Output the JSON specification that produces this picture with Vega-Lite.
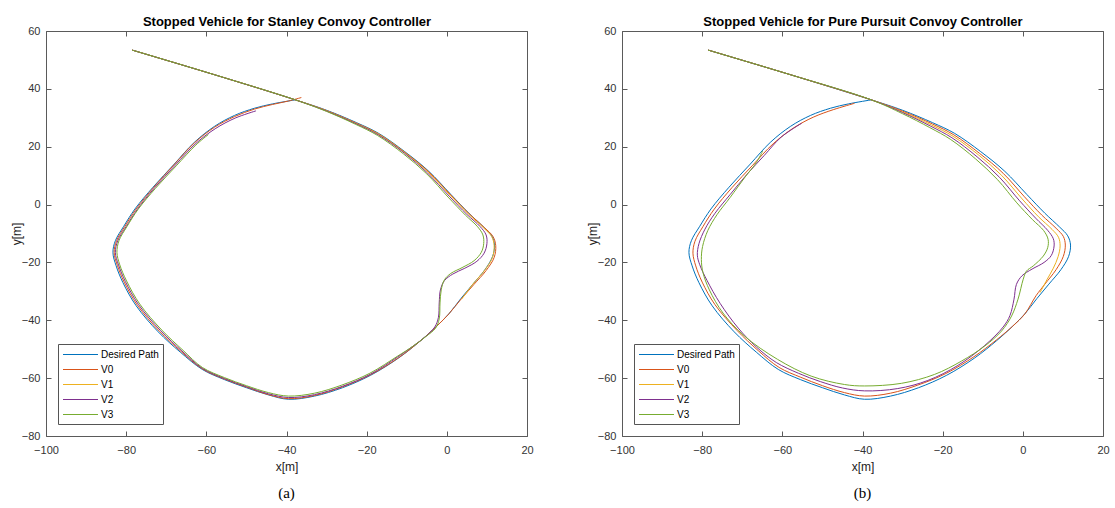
{
  "$schema": "https://vega.github.io/schema/vega-lite/v6.json",
  "background": "white",
  "padding": {"left": 10, "top": 15, "right": 4, "bottom": 4},
  "spacing": 95,
  "bounds": "flush",
  "datasets": {
    "stanley": [
      {"s":"Desired Path","i":0,"x":-78.5,"y":53.4},{"s":"Desired Path","i":1,"x":-58,"y":44.9},{"s":"Desired Path","i":2,"x":-37.8,"y":36.2},{"s":"Desired Path","i":3,"x":-30,"y":32.6},{"s":"Desired Path","i":4,"x":-22.5,"y":28.3},{"s":"Desired Path","i":5,"x":-17,"y":24.6},{"s":"Desired Path","i":6,"x":-10.5,"y":18.3},{"s":"Desired Path","i":7,"x":-4.5,"y":11.5},{"s":"Desired Path","i":8,"x":1,"y":3.5},{"s":"Desired Path","i":9,"x":5.5,"y":-3},{"s":"Desired Path","i":10,"x":9.2,"y":-7.8},{"s":"Desired Path","i":11,"x":11.2,"y":-10.8},{"s":"Desired Path","i":12,"x":11.9,"y":-14},{"s":"Desired Path","i":13,"x":11.4,"y":-18},{"s":"Desired Path","i":14,"x":9.5,"y":-22.5},{"s":"Desired Path","i":15,"x":6.5,"y":-27.5},{"s":"Desired Path","i":16,"x":3.5,"y":-32.5},{"s":"Desired Path","i":17,"x":0.5,"y":-37.8},{"s":"Desired Path","i":18,"x":-2.5,"y":-42},{"s":"Desired Path","i":19,"x":-6.5,"y":-47},{"s":"Desired Path","i":20,"x":-12,"y":-53},{"s":"Desired Path","i":21,"x":-19,"y":-59},{"s":"Desired Path","i":22,"x":-26,"y":-63.3},{"s":"Desired Path","i":23,"x":-33,"y":-66.2},{"s":"Desired Path","i":24,"x":-39.5,"y":-67.3},{"s":"Desired Path","i":25,"x":-44.5,"y":-65.8},{"s":"Desired Path","i":26,"x":-50,"y":-63.3},{"s":"Desired Path","i":27,"x":-55.5,"y":-60.5},{"s":"Desired Path","i":28,"x":-61,"y":-57},{"s":"Desired Path","i":29,"x":-66.5,"y":-51},{"s":"Desired Path","i":30,"x":-72,"y":-44},{"s":"Desired Path","i":31,"x":-77.5,"y":-35},{"s":"Desired Path","i":32,"x":-80.8,"y":-27},{"s":"Desired Path","i":33,"x":-82.5,"y":-21.2},{"s":"Desired Path","i":34,"x":-83.3,"y":-16.6},{"s":"Desired Path","i":35,"x":-82.7,"y":-12.5},{"s":"Desired Path","i":36,"x":-80.6,"y":-7.5},{"s":"Desired Path","i":37,"x":-77.8,"y":-1.5},{"s":"Desired Path","i":38,"x":-73.3,"y":6},{"s":"Desired Path","i":39,"x":-68,"y":14},{"s":"Desired Path","i":40,"x":-63,"y":21.5},{"s":"Desired Path","i":41,"x":-58,"y":27},{"s":"Desired Path","i":42,"x":-53,"y":30.8},{"s":"Desired Path","i":43,"x":-48,"y":33.3},{"s":"Desired Path","i":44,"x":-43.5,"y":34.8},{"s":"Desired Path","i":45,"x":-37.8,"y":36.2},

      {"s":"V0","i":0,"x":-78.5,"y":53.4},{"s":"V0","i":1,"x":-58,"y":44.9},{"s":"V0","i":2,"x":-37.8,"y":36.2},{"s":"V0","i":3,"x":-30,"y":32.5},{"s":"V0","i":4,"x":-22.5,"y":28.1},{"s":"V0","i":5,"x":-17,"y":24.4},{"s":"V0","i":6,"x":-10.5,"y":18.1},{"s":"V0","i":7,"x":-4.5,"y":11.3},{"s":"V0","i":8,"x":1,"y":3.3},{"s":"V0","i":9,"x":5.6,"y":-3.2},{"s":"V0","i":10,"x":9.4,"y":-8},{"s":"V0","i":11,"x":11.5,"y":-11},{"s":"V0","i":12,"x":12.2,"y":-14.2},{"s":"V0","i":13,"x":11.8,"y":-18.3},{"s":"V0","i":14,"x":9.8,"y":-22.8},{"s":"V0","i":15,"x":6.7,"y":-27.7},{"s":"V0","i":16,"x":3.6,"y":-32.6},{"s":"V0","i":17,"x":0.5,"y":-37.8},{"s":"V0","i":18,"x":-2.5,"y":-42},{"s":"V0","i":19,"x":-6.5,"y":-47},{"s":"V0","i":20,"x":-12,"y":-52.9},{"s":"V0","i":21,"x":-19,"y":-58.8},{"s":"V0","i":22,"x":-26,"y":-63},{"s":"V0","i":23,"x":-33,"y":-66},{"s":"V0","i":24,"x":-39.5,"y":-67.1},{"s":"V0","i":25,"x":-44.5,"y":-65.7},{"s":"V0","i":26,"x":-50,"y":-63.1},{"s":"V0","i":27,"x":-55.5,"y":-60.3},{"s":"V0","i":28,"x":-61,"y":-56.8},{"s":"V0","i":29,"x":-66.3,"y":-50.8},{"s":"V0","i":30,"x":-71.7,"y":-43.8},{"s":"V0","i":31,"x":-77.2,"y":-34.8},{"s":"V0","i":32,"x":-80.5,"y":-26.8},{"s":"V0","i":33,"x":-82.2,"y":-21},{"s":"V0","i":34,"x":-83,"y":-16.6},{"s":"V0","i":35,"x":-82.4,"y":-12.5},{"s":"V0","i":36,"x":-80.3,"y":-7.5},{"s":"V0","i":37,"x":-77.5,"y":-1.5},{"s":"V0","i":38,"x":-73.1,"y":6},{"s":"V0","i":39,"x":-67.9,"y":14},{"s":"V0","i":40,"x":-63,"y":21.3},{"s":"V0","i":41,"x":-58,"y":26.7},{"s":"V0","i":42,"x":-53,"y":30.4},{"s":"V0","i":43,"x":-48,"y":33},{"s":"V0","i":44,"x":-43.5,"y":34.6},{"s":"V0","i":45,"x":-39.5,"y":35.8},{"s":"V0","i":46,"x":-36.3,"y":37},

      {"s":"V1","i":0,"x":-78.5,"y":53.4},{"s":"V1","i":1,"x":-58,"y":44.9},{"s":"V1","i":2,"x":-37.8,"y":36.2},{"s":"V1","i":3,"x":-30,"y":32.4},{"s":"V1","i":4,"x":-22.5,"y":28},{"s":"V1","i":5,"x":-17,"y":24.3},{"s":"V1","i":6,"x":-10.5,"y":18},{"s":"V1","i":7,"x":-4.6,"y":11.1},{"s":"V1","i":8,"x":0.9,"y":3.1},{"s":"V1","i":9,"x":5.4,"y":-3.3},{"s":"V1","i":10,"x":9.2,"y":-8.1},{"s":"V1","i":11,"x":11.2,"y":-11.1},{"s":"V1","i":12,"x":11.8,"y":-14.2},{"s":"V1","i":13,"x":11.4,"y":-18.2},{"s":"V1","i":14,"x":9.5,"y":-22.6},{"s":"V1","i":15,"x":6.5,"y":-27.5},{"s":"V1","i":16,"x":3.7,"y":-32.7},

      {"s":"V2","i":0,"x":-78.5,"y":53.4},{"s":"V2","i":1,"x":-58,"y":44.9},{"s":"V2","i":2,"x":-37.8,"y":36.2},{"s":"V2","i":3,"x":-30,"y":32.3},{"s":"V2","i":4,"x":-22.6,"y":27.9},{"s":"V2","i":5,"x":-17.1,"y":24.1},{"s":"V2","i":6,"x":-10.6,"y":17.8},{"s":"V2","i":7,"x":-4.8,"y":10.9},{"s":"V2","i":8,"x":0.6,"y":2.9},{"s":"V2","i":9,"x":5,"y":-3.4},{"s":"V2","i":10,"x":8.3,"y":-7.6},{"s":"V2","i":11,"x":9.8,"y":-10.5},{"s":"V2","i":12,"x":10,"y":-13.5},{"s":"V2","i":13,"x":9.3,"y":-16.8},{"s":"V2","i":14,"x":7.5,"y":-19.6},{"s":"V2","i":15,"x":4.5,"y":-22},{"s":"V2","i":16,"x":1.5,"y":-24},{"s":"V2","i":17,"x":-0.6,"y":-26.3},{"s":"V2","i":18,"x":-1.6,"y":-29.5},{"s":"V2","i":19,"x":-1.9,"y":-34},{"s":"V2","i":20,"x":-2.1,"y":-39},{"s":"V2","i":21,"x":-3,"y":-42.3},{"s":"V2","i":22,"x":-5.2,"y":-45.5},{"s":"V2","i":23,"x":-8.5,"y":-49},{"s":"V2","i":24,"x":-12.2,"y":-52.6},{"s":"V2","i":25,"x":-19,"y":-58.6},{"s":"V2","i":26,"x":-26,"y":-62.8},{"s":"V2","i":27,"x":-33,"y":-65.7},{"s":"V2","i":28,"x":-39.5,"y":-66.7},{"s":"V2","i":29,"x":-44.5,"y":-65.4},{"s":"V2","i":30,"x":-50,"y":-62.9},{"s":"V2","i":31,"x":-55.5,"y":-60.1},{"s":"V2","i":32,"x":-61,"y":-56.6},{"s":"V2","i":33,"x":-66.1,"y":-50.6},{"s":"V2","i":34,"x":-71.4,"y":-43.6},{"s":"V2","i":35,"x":-76.9,"y":-34.6},{"s":"V2","i":36,"x":-80.2,"y":-26.6},{"s":"V2","i":37,"x":-81.9,"y":-20.9},{"s":"V2","i":38,"x":-82.7,"y":-16.6},{"s":"V2","i":39,"x":-82.1,"y":-12.5},{"s":"V2","i":40,"x":-80,"y":-7.6},{"s":"V2","i":41,"x":-77.2,"y":-1.6},{"s":"V2","i":42,"x":-72.9,"y":5.8},{"s":"V2","i":43,"x":-67.7,"y":13.7},{"s":"V2","i":44,"x":-62.8,"y":20.9},{"s":"V2","i":45,"x":-57.8,"y":26.2},{"s":"V2","i":46,"x":-52.8,"y":29.9},{"s":"V2","i":47,"x":-47.6,"y":32.4},

      {"s":"V3","i":0,"x":-78.5,"y":53.4},{"s":"V3","i":1,"x":-58,"y":44.9},{"s":"V3","i":2,"x":-37.8,"y":36.2},{"s":"V3","i":3,"x":-30,"y":32.2},{"s":"V3","i":4,"x":-22.7,"y":27.7},{"s":"V3","i":5,"x":-17.3,"y":23.9},{"s":"V3","i":6,"x":-10.8,"y":17.5},{"s":"V3","i":7,"x":-5,"y":10.6},{"s":"V3","i":8,"x":0.3,"y":2.6},{"s":"V3","i":9,"x":4.6,"y":-3.6},{"s":"V3","i":10,"x":7.7,"y":-7.7},{"s":"V3","i":11,"x":9,"y":-10.5},{"s":"V3","i":12,"x":9.2,"y":-13.5},{"s":"V3","i":13,"x":8.6,"y":-16.5},{"s":"V3","i":14,"x":6.8,"y":-19.4},{"s":"V3","i":15,"x":3.8,"y":-21.8},{"s":"V3","i":16,"x":1,"y":-23.8},{"s":"V3","i":17,"x":-0.6,"y":-26},{"s":"V3","i":18,"x":-1.4,"y":-29.5},{"s":"V3","i":19,"x":-1.7,"y":-34},{"s":"V3","i":20,"x":-1.9,"y":-39.5},{"s":"V3","i":21,"x":-2.8,"y":-42.7},{"s":"V3","i":22,"x":-5.2,"y":-45.6},{"s":"V3","i":23,"x":-8.5,"y":-49},{"s":"V3","i":24,"x":-12.3,"y":-52.4},{"s":"V3","i":25,"x":-19.2,"y":-58.3},{"s":"V3","i":26,"x":-26.2,"y":-62.4},{"s":"V3","i":27,"x":-33,"y":-65.2},{"s":"V3","i":28,"x":-39.5,"y":-66.2},{"s":"V3","i":29,"x":-44.5,"y":-65},{"s":"V3","i":30,"x":-50,"y":-62.6},{"s":"V3","i":31,"x":-55.5,"y":-59.8},{"s":"V3","i":32,"x":-61,"y":-56.3},{"s":"V3","i":33,"x":-65.8,"y":-50.4},{"s":"V3","i":34,"x":-71.1,"y":-43.4},{"s":"V3","i":35,"x":-76.6,"y":-34.4},{"s":"V3","i":36,"x":-79.9,"y":-26.4},{"s":"V3","i":37,"x":-81.6,"y":-20.8},{"s":"V3","i":38,"x":-82.3,"y":-16.6},{"s":"V3","i":39,"x":-81.8,"y":-12.5},{"s":"V3","i":40,"x":-79.8,"y":-7.6},{"s":"V3","i":41,"x":-77,"y":-1.6},{"s":"V3","i":42,"x":-72.7,"y":5.6},{"s":"V3","i":43,"x":-67.5,"y":13.4},{"s":"V3","i":44,"x":-62.6,"y":20.6},{"s":"V3","i":45,"x":-59.5,"y":24.2}
    ],
    "pursuit": [
      {"s":"Desired Path","i":0,"x":-78.5,"y":53.4},{"s":"Desired Path","i":1,"x":-58,"y":44.9},{"s":"Desired Path","i":2,"x":-37.8,"y":36.2},{"s":"Desired Path","i":3,"x":-30,"y":32.6},{"s":"Desired Path","i":4,"x":-22.5,"y":28.3},{"s":"Desired Path","i":5,"x":-17,"y":24.6},{"s":"Desired Path","i":6,"x":-10.5,"y":18.3},{"s":"Desired Path","i":7,"x":-4.5,"y":11.5},{"s":"Desired Path","i":8,"x":1,"y":3.5},{"s":"Desired Path","i":9,"x":5.5,"y":-3},{"s":"Desired Path","i":10,"x":9.2,"y":-7.8},{"s":"Desired Path","i":11,"x":11.2,"y":-10.8},{"s":"Desired Path","i":12,"x":11.9,"y":-14},{"s":"Desired Path","i":13,"x":11.4,"y":-18},{"s":"Desired Path","i":14,"x":9.5,"y":-22.5},{"s":"Desired Path","i":15,"x":6.5,"y":-27.5},{"s":"Desired Path","i":16,"x":3.5,"y":-32.5},{"s":"Desired Path","i":17,"x":0.5,"y":-37.8},{"s":"Desired Path","i":18,"x":-2.5,"y":-42},{"s":"Desired Path","i":19,"x":-6.5,"y":-47},{"s":"Desired Path","i":20,"x":-12,"y":-53},{"s":"Desired Path","i":21,"x":-19,"y":-59},{"s":"Desired Path","i":22,"x":-26,"y":-63.3},{"s":"Desired Path","i":23,"x":-33,"y":-66.2},{"s":"Desired Path","i":24,"x":-39.5,"y":-67.3},{"s":"Desired Path","i":25,"x":-44.5,"y":-65.8},{"s":"Desired Path","i":26,"x":-50,"y":-63.3},{"s":"Desired Path","i":27,"x":-55.5,"y":-60.5},{"s":"Desired Path","i":28,"x":-61,"y":-57},{"s":"Desired Path","i":29,"x":-66.5,"y":-51},{"s":"Desired Path","i":30,"x":-72,"y":-44},{"s":"Desired Path","i":31,"x":-77.5,"y":-35},{"s":"Desired Path","i":32,"x":-80.8,"y":-27},{"s":"Desired Path","i":33,"x":-82.5,"y":-21.2},{"s":"Desired Path","i":34,"x":-83.3,"y":-16.6},{"s":"Desired Path","i":35,"x":-82.7,"y":-12.5},{"s":"Desired Path","i":36,"x":-80.6,"y":-7.5},{"s":"Desired Path","i":37,"x":-77.8,"y":-1.5},{"s":"Desired Path","i":38,"x":-73.3,"y":6},{"s":"Desired Path","i":39,"x":-68,"y":14},{"s":"Desired Path","i":40,"x":-63,"y":21.5},{"s":"Desired Path","i":41,"x":-58,"y":27},{"s":"Desired Path","i":42,"x":-53,"y":30.8},{"s":"Desired Path","i":43,"x":-48,"y":33.3},{"s":"Desired Path","i":44,"x":-43.5,"y":34.8},{"s":"Desired Path","i":45,"x":-37.8,"y":36.2},

      {"s":"V0","i":0,"x":-78.5,"y":53.4},{"s":"V0","i":1,"x":-58,"y":44.9},{"s":"V0","i":2,"x":-37.8,"y":36.2},{"s":"V0","i":3,"x":-30,"y":32.3},{"s":"V0","i":4,"x":-22.6,"y":27.9},{"s":"V0","i":5,"x":-17.2,"y":24.1},{"s":"V0","i":6,"x":-10.8,"y":17.7},{"s":"V0","i":7,"x":-4.9,"y":10.8},{"s":"V0","i":8,"x":0.4,"y":2.7},{"s":"V0","i":9,"x":4.7,"y":-3.6},{"s":"V0","i":10,"x":8.3,"y":-8.2},{"s":"V0","i":11,"x":10.1,"y":-11},{"s":"V0","i":12,"x":10.6,"y":-14},{"s":"V0","i":13,"x":10.1,"y":-17.9},{"s":"V0","i":14,"x":8.3,"y":-22.5},{"s":"V0","i":15,"x":5.5,"y":-27.5},{"s":"V0","i":16,"x":3.3,"y":-31.5},{"s":"V0","i":17,"x":0.5,"y":-37.8},{"s":"V0","i":18,"x":-2.5,"y":-42},{"s":"V0","i":19,"x":-6.6,"y":-46.8},{"s":"V0","i":20,"x":-12.2,"y":-52.6},{"s":"V0","i":21,"x":-19.2,"y":-58.4},{"s":"V0","i":22,"x":-26.2,"y":-62.4},{"s":"V0","i":23,"x":-33,"y":-65.2},{"s":"V0","i":24,"x":-39.5,"y":-66.2},{"s":"V0","i":25,"x":-44.5,"y":-65},{"s":"V0","i":26,"x":-50,"y":-62.6},{"s":"V0","i":27,"x":-55.4,"y":-59.7},{"s":"V0","i":28,"x":-60.8,"y":-56.3},{"s":"V0","i":29,"x":-66,"y":-50.5},{"s":"V0","i":30,"x":-71.3,"y":-43.5},{"s":"V0","i":31,"x":-76.8,"y":-34.6},{"s":"V0","i":32,"x":-80,"y":-26.8},{"s":"V0","i":33,"x":-81.6,"y":-21.2},{"s":"V0","i":34,"x":-82.3,"y":-16.8},{"s":"V0","i":35,"x":-81.8,"y":-12.7},{"s":"V0","i":36,"x":-79.8,"y":-7.6},{"s":"V0","i":37,"x":-77,"y":-1.6},{"s":"V0","i":38,"x":-72.6,"y":5.8},{"s":"V0","i":39,"x":-67.4,"y":13.6},{"s":"V0","i":40,"x":-62.3,"y":21},{"s":"V0","i":41,"x":-57.3,"y":26.4},{"s":"V0","i":42,"x":-52.3,"y":30.2},{"s":"V0","i":43,"x":-47.3,"y":32.8},{"s":"V0","i":44,"x":-42,"y":35},

      {"s":"V1","i":0,"x":-78.5,"y":53.4},{"s":"V1","i":1,"x":-58,"y":44.9},{"s":"V1","i":2,"x":-37.8,"y":36.2},{"s":"V1","i":3,"x":-30,"y":32},{"s":"V1","i":4,"x":-22.8,"y":27.5},{"s":"V1","i":5,"x":-17.4,"y":23.6},{"s":"V1","i":6,"x":-11,"y":17.1},{"s":"V1","i":7,"x":-5.3,"y":10.1},{"s":"V1","i":8,"x":-0.2,"y":2},{"s":"V1","i":9,"x":3.9,"y":-4.2},{"s":"V1","i":10,"x":7.3,"y":-8.6},{"s":"V1","i":11,"x":8.9,"y":-11.3},{"s":"V1","i":12,"x":9.3,"y":-14.3},{"s":"V1","i":13,"x":8.8,"y":-18},{"s":"V1","i":14,"x":7.6,"y":-22},{"s":"V1","i":15,"x":6,"y":-26},{"s":"V1","i":16,"x":4.3,"y":-30.4},

      {"s":"V2","i":0,"x":-78.5,"y":53.4},{"s":"V2","i":1,"x":-58,"y":44.9},{"s":"V2","i":2,"x":-37.8,"y":36.2},{"s":"V2","i":3,"x":-30,"y":31.8},{"s":"V2","i":4,"x":-23,"y":27.1},{"s":"V2","i":5,"x":-17.7,"y":23.1},{"s":"V2","i":6,"x":-11.4,"y":16.5},{"s":"V2","i":7,"x":-5.8,"y":9.4},{"s":"V2","i":8,"x":-0.8,"y":1.3},{"s":"V2","i":9,"x":3.2,"y":-4.7},{"s":"V2","i":10,"x":6.2,"y":-8.9},{"s":"V2","i":11,"x":7.6,"y":-11.8},{"s":"V2","i":12,"x":7.8,"y":-14.3},{"s":"V2","i":13,"x":7.1,"y":-17.6},{"s":"V2","i":14,"x":5.3,"y":-20},{"s":"V2","i":15,"x":2.3,"y":-22.3},{"s":"V2","i":16,"x":-0.2,"y":-24.6},{"s":"V2","i":17,"x":-1.6,"y":-27.6},{"s":"V2","i":18,"x":-2.2,"y":-32.7},{"s":"V2","i":19,"x":-3.2,"y":-38.3},{"s":"V2","i":20,"x":-4.9,"y":-42.3},{"s":"V2","i":21,"x":-9.5,"y":-48.7},{"s":"V2","i":22,"x":-16.2,"y":-55.6},{"s":"V2","i":23,"x":-23.7,"y":-60.8},{"s":"V2","i":24,"x":-31.2,"y":-63.6},{"s":"V2","i":25,"x":-39.5,"y":-64.4},{"s":"V2","i":26,"x":-45,"y":-63.4},{"s":"V2","i":27,"x":-50.5,"y":-61.2},{"s":"V2","i":28,"x":-56,"y":-58.3},{"s":"V2","i":29,"x":-61.5,"y":-54.6},{"s":"V2","i":30,"x":-66.5,"y":-49.2},{"s":"V2","i":31,"x":-71,"y":-42.7},{"s":"V2","i":32,"x":-75.5,"y":-34.2},{"s":"V2","i":33,"x":-78.8,"y":-26.2},{"s":"V2","i":34,"x":-80.6,"y":-20.8},{"s":"V2","i":35,"x":-81.2,"y":-17.5},{"s":"V2","i":36,"x":-80.8,"y":-13.5},{"s":"V2","i":37,"x":-79.3,"y":-8.5},{"s":"V2","i":38,"x":-76.8,"y":-3},{"s":"V2","i":39,"x":-73,"y":3.5},{"s":"V2","i":40,"x":-68.8,"y":10.5},{"s":"V2","i":41,"x":-64.5,"y":17},{"s":"V2","i":42,"x":-60.3,"y":23.3},{"s":"V2","i":43,"x":-55.2,"y":28.1},

      {"s":"V3","i":0,"x":-78.5,"y":53.4},{"s":"V3","i":1,"x":-58,"y":44.9},{"s":"V3","i":2,"x":-37.8,"y":36.2},{"s":"V3","i":3,"x":-30,"y":31.4},{"s":"V3","i":4,"x":-23.2,"y":26.6},{"s":"V3","i":5,"x":-18,"y":22.5},{"s":"V3","i":6,"x":-11.8,"y":15.8},{"s":"V3","i":7,"x":-6.3,"y":8.6},{"s":"V3","i":8,"x":-1.5,"y":0.6},{"s":"V3","i":9,"x":2.4,"y":-5.2},{"s":"V3","i":10,"x":5.2,"y":-9},{"s":"V3","i":11,"x":6.3,"y":-12},{"s":"V3","i":12,"x":6.2,"y":-14.9},{"s":"V3","i":13,"x":5.1,"y":-17.8},{"s":"V3","i":14,"x":2.6,"y":-21.2},{"s":"V3","i":15,"x":0.9,"y":-23},{"s":"V3","i":16,"x":0.1,"y":-25.8},{"s":"V3","i":17,"x":-1.2,"y":-32.7},{"s":"V3","i":18,"x":-2.8,"y":-38.5},{"s":"V3","i":19,"x":-5.3,"y":-43.7},{"s":"V3","i":20,"x":-9.5,"y":-48.9},{"s":"V3","i":21,"x":-15.3,"y":-54.1},{"s":"V3","i":22,"x":-22,"y":-58.7},{"s":"V3","i":23,"x":-30.3,"y":-61.8},{"s":"V3","i":24,"x":-39.5,"y":-62.7},{"s":"V3","i":25,"x":-44.5,"y":-62.2},{"s":"V3","i":26,"x":-52.8,"y":-59.3},{"s":"V3","i":27,"x":-61.2,"y":-53.5},{"s":"V3","i":28,"x":-69.5,"y":-45.4},{"s":"V3","i":29,"x":-74.8,"y":-37.5},{"s":"V3","i":30,"x":-78.2,"y":-29.5},{"s":"V3","i":31,"x":-79.8,"y":-23.5},{"s":"V3","i":32,"x":-80.2,"y":-19},{"s":"V3","i":33,"x":-79.9,"y":-14.5},{"s":"V3","i":34,"x":-78.6,"y":-9},{"s":"V3","i":35,"x":-76.3,"y":-3.5},{"s":"V3","i":36,"x":-73,"y":2.5},{"s":"V3","i":37,"x":-69.3,"y":9.5},{"s":"V3","i":38,"x":-66.5,"y":14.5},{"s":"V3","i":39,"x":-64.9,"y":18.5}
    ]
  },
  "hconcat": [
    {
      "width": 481,
      "height": 405,
      "data": {"name": "stanley"},
      "title": {"text": "(a)", "orient": "bottom", "anchor": "middle", "font": "Liberation Serif", "fontSize": 15, "fontWeight": "normal", "color": "#000000", "offset": 14},
      "layer": [
        {
          "mark": {"type": "line", "interpolate": "catmull-rom", "strokeWidth": 1, "clip": true},
          "encoding": {
            "x": {"field": "x", "type": "quantitative", "scale": {"domain": [-100, 20], "nice": false, "zero": false},
                  "axis": {"orient": "bottom", "values": [-100, -80, -60, -40, -20, 0, 20], "labelPadding": 13, "title": "x[m]", "titlePadding": 6}},
            "y": {"field": "y", "type": "quantitative", "scale": {"domain": [-80, 60], "nice": false, "zero": false},
                  "axis": {"orient": "left", "values": [-80, -60, -40, -20, 0, 20, 40, 60], "labelPadding": 11, "title": "y[m]", "titlePadding": -2}},
            "order": {"field": "i", "type": "quantitative"},
            "color": {"field": "s", "type": "nominal",
                      "scale": {"domain": ["Desired Path", "V0", "V1", "V2", "V3"], "range": ["#0072BD", "#D95319", "#EDB120", "#7E2F8E", "#77AC30"]},
                      "legend": {"title": null}}
          }
        },
        {
          "mark": {"type": "point", "opacity": 0},
          "encoding": {
            "x": {"field": "x", "type": "quantitative", "scale": {"domain": [-100, 20], "nice": false, "zero": false},
                  "axis": {"orient": "top", "values": [-100, -80, -60, -40, -20, 0, 20], "labels": false, "title": "Stopped Vehicle for Stanley Convoy Controller", "titleFontWeight": "bold", "titleFontSize": 13, "titleColor": "#000000", "titlePadding": 2}},
            "y": {"field": "y", "type": "quantitative", "scale": {"domain": [-80, 60], "nice": false, "zero": false},
                  "axis": {"orient": "right", "values": [-80, -60, -40, -20, 0, 20, 40, 60], "labels": false, "title": null}}
          }
        }
      ],
      "resolve": {"axis": {"x": "independent", "y": "independent"}}
    },
    {
      "width": 481,
      "height": 405,
      "data": {"name": "pursuit"},
      "title": {"text": "(b)", "orient": "bottom", "anchor": "middle", "font": "Liberation Serif", "fontSize": 15, "fontWeight": "normal", "color": "#000000", "offset": 14},
      "layer": [
        {
          "mark": {"type": "line", "interpolate": "catmull-rom", "strokeWidth": 1, "clip": true},
          "encoding": {
            "x": {"field": "x", "type": "quantitative", "scale": {"domain": [-100, 20], "nice": false, "zero": false},
                  "axis": {"orient": "bottom", "values": [-100, -80, -60, -40, -20, 0, 20], "labelPadding": 13, "title": "x[m]", "titlePadding": 6}},
            "y": {"field": "y", "type": "quantitative", "scale": {"domain": [-80, 60], "nice": false, "zero": false},
                  "axis": {"orient": "left", "values": [-80, -60, -40, -20, 0, 20, 40, 60], "labelPadding": 11, "title": "y[m]", "titlePadding": -2}},
            "order": {"field": "i", "type": "quantitative"},
            "color": {"field": "s", "type": "nominal",
                      "scale": {"domain": ["Desired Path", "V0", "V1", "V2", "V3"], "range": ["#0072BD", "#D95319", "#EDB120", "#7E2F8E", "#77AC30"]},
                      "legend": {"title": null}}
          }
        },
        {
          "mark": {"type": "point", "opacity": 0},
          "encoding": {
            "x": {"field": "x", "type": "quantitative", "scale": {"domain": [-100, 20], "nice": false, "zero": false},
                  "axis": {"orient": "top", "values": [-100, -80, -60, -40, -20, 0, 20], "labels": false, "title": "Stopped Vehicle for Pure Pursuit Convoy Controller", "titleFontWeight": "bold", "titleFontSize": 13, "titleColor": "#000000", "titlePadding": 2}},
            "y": {"field": "y", "type": "quantitative", "scale": {"domain": [-80, 60], "nice": false, "zero": false},
                  "axis": {"orient": "right", "values": [-80, -60, -40, -20, 0, 20, 40, 60], "labels": false, "title": null}}
          }
        }
      ],
      "resolve": {"axis": {"x": "independent", "y": "independent"}}
    }
  ],
  "resolve": {"scale": {"color": "independent"}, "legend": {"color": "independent"}},
  "config": {
    "view": {"stroke": null},
    "axis": {
      "grid": false,
      "domainColor": "#5a5a5a",
      "tickColor": "#5a5a5a",
      "domainWidth": 1,
      "tickWidth": 1,
      "tickSize": -5,
      "labelFlush": false,
      "labelOverlap": false,
      "labelFont": "Liberation Sans",
      "labelFontSize": 11,
      "labelColor": "#333333",
      "titleFont": "Liberation Sans",
      "titleFontSize": 12,
      "titleFontWeight": "normal",
      "titleColor": "#222222"
    },
    "legend": {
      "orient": "bottom-left",
      "offset": 12,
      "symbolType": "M-3,0H3",
      "symbolSize": 136,
      "symbolOffset": 12,
      "symbolStrokeWidth": 1,
      "labelFont": "Liberation Sans",
      "labelFontSize": 10,
      "labelColor": "#000000",
      "labelOffset": 14,
      "strokeColor": "#555555",
      "fillColor": "white",
      "padding": 4,
      "rowPadding": 3
    }
  }
}
